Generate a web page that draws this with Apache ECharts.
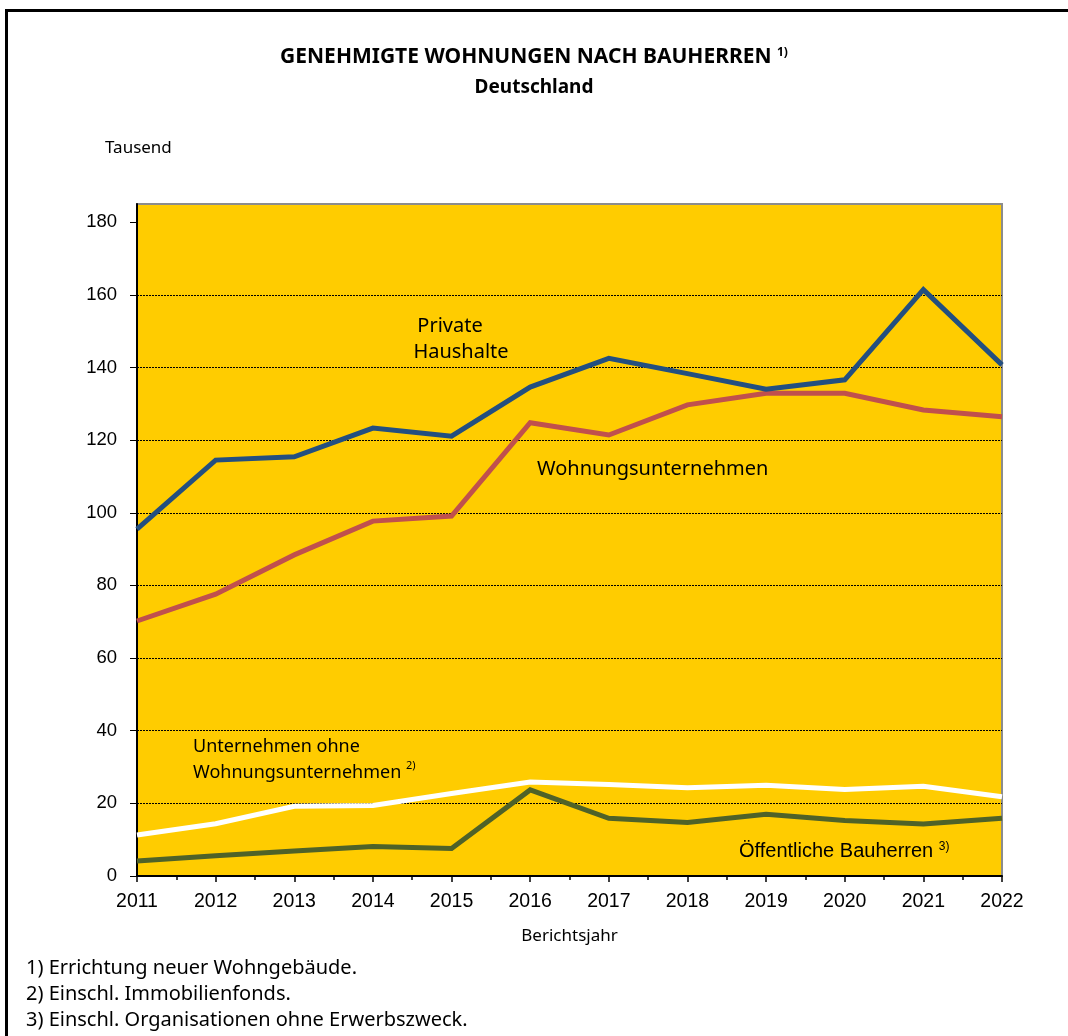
<!DOCTYPE html>
<html>
<head>
<meta charset="utf-8">
<script src="https://cdn.jsdelivr.net/npm/echarts@6/dist/echarts.min.js"></script>
<style>
html,body{margin:0;padding:0;background:#fff;}
#c{width:1068px;height:1036px;}
</style>
</head>
<body>
<div id="c"></div>
<script>
const years = [2011,2012,2013,2014,2015,2016,2017,2018,2019,2020,2021,2022];
const privateHaushalte = [95.5,114.5,115.4,123.3,121.1,134.6,142.5,138.3,134.0,136.6,161.4,140.7];
const wohnungsunternehmen = [70.2,77.6,88.4,97.7,99.1,124.8,121.4,129.7,132.9,132.9,128.3,126.4];
const unternehmenOhne = [11.3,14.4,19.2,19.4,22.7,25.9,25.2,24.3,25.0,23.8,24.7,21.8];
const oeffentliche = [4.1,5.6,6.9,8.1,7.6,23.7,15.9,14.7,17.0,15.3,14.3,15.9];
const yTicks = [0,20,40,60,80,100,120,140,160,180];

const pair = arr => years.map((y,i)=>[y,arr[i]]);
const chart = echarts.init(document.getElementById('c'), null, {renderer:'canvas'});
const lineSeries = (name, arr, color) => ({
  name, type:'line', data: pair(arr), symbol:'none', smooth:false,
  lineStyle:{color, width:5, cap:'butt', join:'miter'}, clip:false, z:3
});
chart.setOption({
  animation:false,
  backgroundColor:'#fff',
  title:[
    {text:'{m|GENEHMIGTE WOHNUNGEN NACH BAUHERREN }{s|1)}', left:'center', top:42,
     textStyle:{rich:{m:{fontFamily:'Noto Sans', fontWeight:'bold', fontSize:21, color:'#000'},
       s:{fontFamily:'Noto Sans', fontWeight:'bold', fontSize:12, color:'#000', verticalAlign:'top', padding:[0,0,9,0]}}}},
    {text:'Deutschland', left:'center', top:73,
     textStyle:{fontFamily:'Noto Sans', fontWeight:'bold', fontSize:19, color:'#000'}}
  ],
  grid:{left:137, right:66, top:204, bottom:160, show:true, backgroundColor:'#FFCC00', borderColor:'#8c8c8c', borderWidth:2},
  xAxis:{
    type:'value', min:2011, max:2022, interval:1,
    name:'Berichtsjahr', nameLocation:'middle', nameGap:52,
    nameTextStyle:{fontFamily:'Noto Sans', fontSize:17, color:'#000'},
    axisLine:{show:true, onZero:false, lineStyle:{color:'#000', width:2}},
    axisTick:{show:true, length:6, lineStyle:{color:'#000', width:1.5}},
    minorTick:{show:true, splitNumber:2, length:4, lineStyle:{color:'#000', width:1.5}},
    axisLabel:{formatter:v=>String(v), fontFamily:'Liberation Sans', fontSize:19.5, color:'#000', margin:16},
    splitLine:{show:false}
  },
  yAxis:{
    type:'value', min:0, max:185, interval:20,
    axisLine:{show:true, lineStyle:{color:'#000', width:2}},
    axisTick:{show:true, length:7, customValues:yTicks, lineStyle:{color:'#000', width:1}},
    axisLabel:{customValues:yTicks, fontFamily:'Liberation Sans', fontSize:18.5, color:'#000', margin:20},
    splitLine:{show:true, showMaxLine:false, showMinLine:false, lineStyle:{color:'#000', width:1, type:[2,1]}}
  },
  series:[
    lineSeries('Öffentliche Bauherren', oeffentliche, '#4F6228'),
    lineSeries('Unternehmen ohne Wohnungsunternehmen', unternehmenOhne, '#FFFFFF'),
    lineSeries('Wohnungsunternehmen', wohnungsunternehmen, '#C0504D'),
    lineSeries('Private Haushalte', privateHaushalte, '#234F80')
  ],
  graphic:[
    {type:'rect', shape:{x:6.5, y:10.5, width:1100, height:1100}, style:{fill:null, stroke:'#000', lineWidth:3}, z:100, silent:true},
    {type:'text', left:105, top:140, style:{text:'Tausend', fontFamily:'Noto Sans', fontSize:17, fill:'#000'}},
    {type:'text', x:450, y:326, style:{text:'Private', align:'center', verticalAlign:'middle', fontFamily:'Noto Sans', fontSize:20, fill:'#000'}, z:10},
    {type:'text', x:461, y:352, style:{text:'Haushalte', align:'center', verticalAlign:'middle', fontFamily:'Noto Sans', fontSize:20, fill:'#000'}, z:10},
    {type:'text', x:537, y:469, style:{text:'Wohnungsunternehmen', verticalAlign:'middle', fontFamily:'Noto Sans', fontSize:20, fill:'#000'}, z:10},
    {type:'text', x:193, y:734, style:{text:'Unternehmen ohne\nWohnungsunternehmen {s|2)}', fontFamily:'Noto Sans', fontSize:18, lineHeight:26, fill:'#000',
      rich:{s:{fontFamily:'Noto Sans', fontSize:11, fill:'#000', verticalAlign:'top', padding:[0,0,8,0]}}}, z:10},
    {type:'text', x:739, y:851, style:{text:'Öffentliche Bauherren {s|3)}', verticalAlign:'middle', fontFamily:'Liberation Sans', fontSize:20, fill:'#000',
      rich:{s:{fontFamily:'Liberation Sans', fontSize:12, fill:'#000', verticalAlign:'top', padding:[0,0,8,0]}}}, z:10},
    {type:'text', x:26, y:955, style:{text:'1) Errichtung neuer Wohngebäude.\n2) Einschl. Immobilienfonds.\n3) Einschl. Organisationen ohne Erwerbszweck.', fontFamily:'Noto Sans', fontSize:20, lineHeight:26, fill:'#000'}}
  ]
});
</script>
</body>
</html>
